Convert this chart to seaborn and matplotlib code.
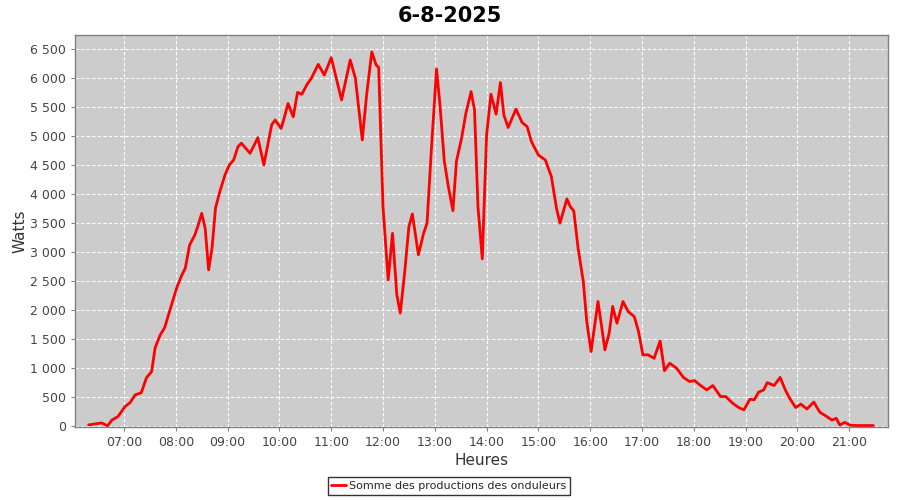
import matplotlib
matplotlib.use("Agg")
import matplotlib.pyplot as plt
import pandas as pd
import seaborn as sns

# readings of the inverter total, time of day and watts
times = [
    "06:19", "06:34", "06:41", "06:46", "06:53", "07:01", "07:07", "07:13", "07:20", "07:26",
    "07:32", "07:36", "07:42", "07:47", "07:55", "08:01", "08:07", "08:11", "08:16", "08:22",
    "08:26", "08:30", "08:34", "08:38", "08:42", "08:46", "08:51", "08:57", "09:02", "09:07",
    "09:12", "09:16", "09:26", "09:35", "09:42", "09:51", "09:55", "10:02", "10:06", "10:10",
    "10:16", "10:21", "10:26", "10:32", "10:37", "10:45", "10:52", "11:00", "11:04", "11:12",
    "11:22", "11:28", "11:36", "11:41", "11:47", "11:52", "11:55", "12:00", "12:06", "12:11",
    "12:16", "12:20", "12:25", "12:30", "12:34", "12:41", "12:47", "12:51", "12:56", "13:02",
    "13:06", "13:11", "13:16", "13:21", "13:25", "13:31", "13:36", "13:42", "13:46", "13:50",
    "13:55", "14:00", "14:05", "14:11", "14:16", "14:20", "14:25", "14:34", "14:41", "14:47",
    "14:52", "15:00", "15:08", "15:15", "15:21", "15:25", "15:33", "15:37", "15:41", "15:46",
    "15:52", "15:56", "16:01", "16:09", "16:13", "16:17", "16:22", "16:26", "16:31", "16:38",
    "16:44", "16:51", "16:56", "17:01", "17:07", "17:14", "17:21", "17:26", "17:32", "17:40",
    "17:48", "17:55", "18:01", "18:07", "18:15", "18:22", "18:31", "18:37", "18:45", "18:52",
    "18:58", "19:05", "19:10", "19:15", "19:21", "19:25", "19:33", "19:40", "19:46", "19:51",
    "19:58", "20:04", "20:11", "20:19", "20:26", "20:34", "20:40", "20:45", "20:49", "20:55",
    "21:01", "21:10", "21:20", "21:28",
]
watts = [
    17, 50, 0, 100, 160, 330, 400, 535, 570, 830,
    935, 1345, 1570, 1690, 2085, 2380, 2600, 2720, 3120, 3290,
    3465, 3665, 3410, 2690, 3070, 3760, 4040, 4330, 4500, 4585,
    4815, 4875, 4700, 4970, 4500, 5190, 5275, 5130, 5335, 5560,
    5330, 5750, 5720, 5890, 5995, 6235, 6050, 6350, 6110, 5620,
    6310, 5995, 4930, 5705, 6450, 6225, 6180, 3780, 2515, 3320,
    2260, 1945, 2630, 3435, 3655, 2950, 3320, 3495, 4760, 6155,
    5535, 4560, 4100, 3710, 4560, 4960, 5390, 5765, 5450, 3780,
    2880, 5015, 5720, 5375, 5920, 5360, 5145, 5465, 5235, 5160,
    4900, 4670, 4585, 4300, 3750, 3495, 3915, 3780, 3705, 3060,
    2490, 1800, 1280, 2145, 1740, 1310, 1600, 2060, 1770, 2145,
    1970, 1885, 1625, 1225, 1225, 1165, 1465, 950, 1080, 995,
    835, 765, 780, 705, 620, 695, 505, 505, 390, 315,
    275, 460, 450, 580, 620, 745, 695, 835, 620, 475,
    315, 375, 290, 410, 235, 160, 100, 130, 15, 60,
    10, 5, 5, 5,
]
hour_ticks = list(range(7, 22))
watt_ticks = list(range(0, 7000, 500))

df = pd.DataFrame({"time": times, "watts": watts})
parts = df["time"].str.split(":", expand=True).astype(int)
df["hour"] = parts[0] + parts[1] / 60

sns.set_style("whitegrid")
plt.rcParams["font.family"] = ["DejaVu Sans"]

fig = plt.figure(figsize=(9, 5), dpi=100)
ax = fig.add_axes([75 / 900, 1 - 427 / 500, 813 / 900, 392 / 500])
ax.set_facecolor("#cccccc")

sns.lineplot(data=df, x="hour", y="watts", ax=ax, color="red", linewidth=2,
             label="Somme des productions des onduleurs")

ax.set_xlim(6.054, 21.749)
ax.set_ylim(-20, 6741)
ax.set_xticks(hour_ticks)
ax.set_xticklabels([f"{h:02d}:00" for h in hour_ticks])
ax.set_yticks(watt_ticks)
ax.set_yticklabels([f"{v:,}".replace(",", " ") for v in watt_ticks])

ax.grid(True, color="white", linestyle=(0, (3, 2)), linewidth=0.8)
for side in ax.spines.values():
    side.set_color("#808080")
    side.set_linewidth(1)
ax.tick_params(axis="both", colors="#444444", labelsize=9, length=3, width=0.8,
               direction="out", left=True, bottom=True)
ax.tick_params(axis="both", color="#808080")

ax.set_xlabel("Heures", fontsize=11, color="#333333", labelpad=3)
ax.set_ylabel("Watts", fontsize=11, color="#333333", labelpad=2)
fig.suptitle("6-8-2025", fontsize=15, fontweight="bold", color="black", y=0.988)

leg = ax.legend(loc="upper center", bbox_to_anchor=(0.46, -0.113), frameon=True,
                fancybox=False, edgecolor="black", fontsize=8, handlelength=1.3,
                borderpad=0.35, handletextpad=0.3)
leg.get_frame().set_linewidth(1)

fig.savefig("out.png", dpi=100, facecolor="white")
plt.close(fig)
